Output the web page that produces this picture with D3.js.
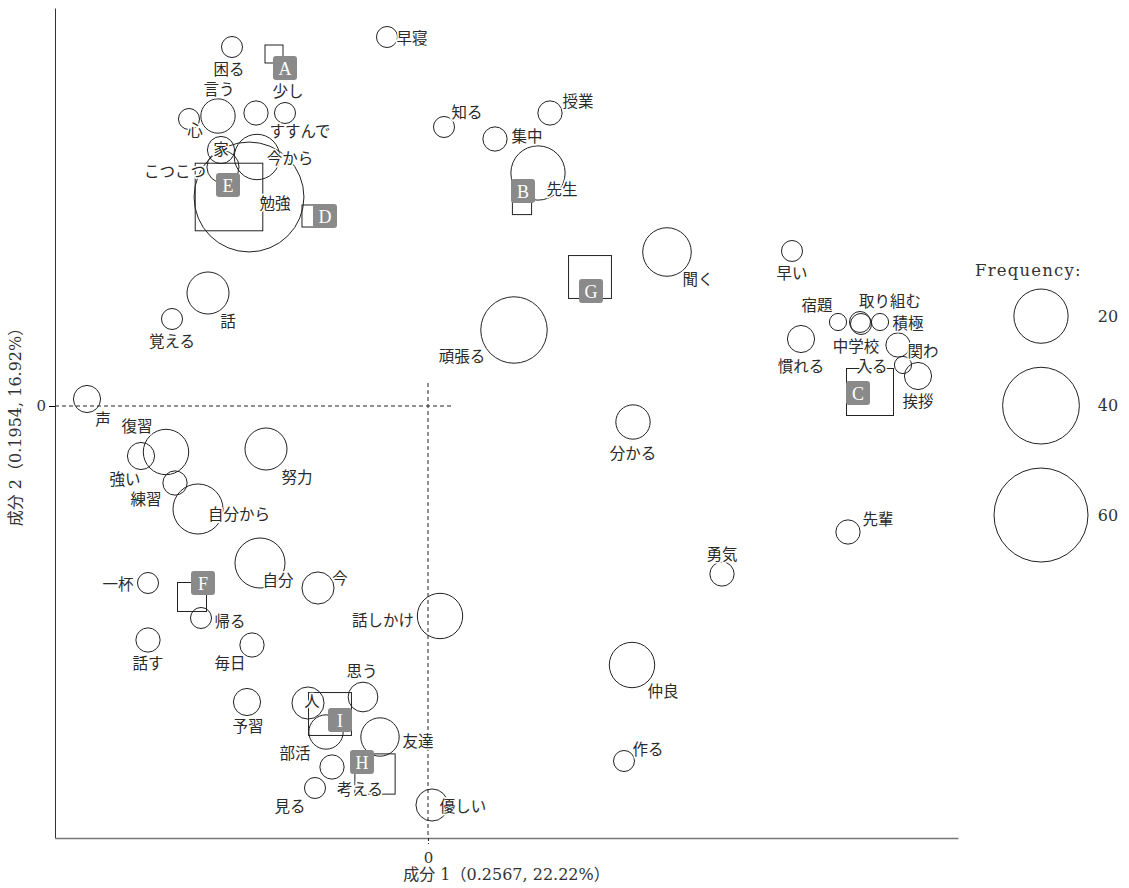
<!DOCTYPE html>
<html>
<head>
<meta charset="utf-8">
<script src="https://cdn.jsdelivr.net/npm/d3@7"></script>
<style>
  body { margin: 0; background: #fff; }
  svg { display: block; }
</style>
</head>
<body>
<div id="chart"></div>
<script>
// words: correspondence analysis coordinates and frequency
var words = ["困る","言う","心","すすんで","少し","家","今から","こつこつ","勉強","覚える","話",
  "早寝","知る","授業","集中","先生","頑張る","聞く",
  "早い","宿題","取り組む","積極","中学校","慣れる","関わ","入る","挨拶",
  "分かる","先輩","勇気","仲良","作る",
  "声","復習","強い","練習","自分から","努力","自分","今","一杯","帰る","話す","毎日",
  "話しかけ","思う","人","部活","予習","友達","考える","見る","優しい"];
var dim1 = [-0.98,-1.05,-1.195,-0.86,-0.715,-1.035,-0.855,-1.025,-0.895,-1.28,-1.10,
  -0.205,0.08,0.61,0.335,0.55,0.43,1.195,
  1.82,2.05,2.16,2.26,2.165,1.865,2.35,2.375,2.45,
  1.025,2.10,1.47,1.02,0.98,
  -1.705,-1.31,-1.435,-1.265,-1.15,-0.81,-0.84,-0.55,-1.40,-1.135,-1.40,-0.88,
  0.06,-0.325,-0.60,-0.51,-0.905,-0.24,-0.48,-0.565,0.02];
var dim2 = [1.795,1.45,1.435,1.465,1.465,1.28,1.245,1.195,1.045,0.435,0.565,
  1.845,1.395,1.465,1.335,1.165,0.38,0.77,
  0.775,0.42,0.42,0.42,0.41,0.335,0.305,0.205,0.15,
  -0.08,-0.63,-0.84,-1.295,-1.775,
  0.035,-0.23,-0.25,-0.385,-0.515,-0.215,-0.785,-0.91,-0.885,-1.06,-1.17,-1.195,
  -1.05,-1.455,-1.485,-1.63,-1.48,-1.655,-1.805,-1.91,-1.995];
var freq = [3,8,3,4,3,5,14,7,82,3,12,
  3,3,4,4,20,30,16,
  3,2,3,2,3,5,4,2,5,
  8,4,4,14,3,
  5,14,5,4,17,12,17,7,3,3,4,4,
  14,6,7,8,5,10,4,3,7];

// external variables (squares)
var varNames = ["A","B","C","D","E","F","G","H","I"];
var varDim1 = [-0.77,0.47,2.21,-0.575,-0.995,-1.18,0.81,-0.265,-0.49];
var varDim2 = [1.76,1.005,0.07,0.95,1.045,-0.955,0.645,-1.84,-1.54];
var varFreq = [2.2,2.5,15,3.3,31,5.7,12.5,11,12.5];

var legendValues = [20,40,60];
var xTicks = [0], yTicks = [0];
var xTitle = "成分 1（0.2567, 22.22%）";
var yTitle = "成分 2（0.1954, 16.92%）";

// label placement (pixel nudges from the point, like a repel layout)
var nudge = {
  "困る":[-3,21],"言う":[1,-28],"心":[6,10],"すすんで":[44,17],"少し":[3,-23],"家":[0,-2],
  "今から":[33,0],"こつこつ":[-48,3],"勉強":[26,5],"覚える":[0,21],"話":[20,27],
  "早寝":[25,0],"知る":[23,-16],"授業":[28,-13],"集中":[32,-4],"先生":[24,15],
  "頑張る":[-52,25],"聞く":[31,26],"早い":[0,21],"宿題":[-21,-18],"取り組む":[30,-22],
  "積極":[28,0],"中学校":[-5,21],"慣れる":[0,26],"関わ":[25,5],"入る":[-31,0],"挨拶":[0,24],
  "分かる":[0,30],"先輩":[30,-14],"勇気":[0,-21],"仲良":[31,25],"作る":[24,-13],
  "声":[16,19],"復習":[-29,-27],"強い":[-16,22],"練習":[-29,15],"自分から":[41,4],
  "努力":[31,27],"自分":[18,16],"今":[22,-11],"一杯":[-30,0],"帰る":[29,2],"話す":[0,22],
  "毎日":[-22,17],"話しかけ":[-57,3],"思う":[-1,-27],"人":[4,-3],"部活":[-31,20],
  "予習":[1,23],"友達":[38,3],"考える":[28,21],"見る":[-25,17],"優しい":[31,0]
};
var varNudge = {"A":[11,14],"B":[1,-14],"C":[-12,1],"D":[12,0],"E":[-1,-12],
  "F":[11,-14],"G":[1,14],"H":[-13,-12],"I":[10,6]};

var width = 1129, height = 888;
var margin = { top: 8, right: 171, bottom: 50, left: 55 };

var svg = d3.select("#chart").append("svg")
    .attr("width", width)
    .attr("height", height);

var x = d3.scaleLinear().domain([-1.865, 2.65]).range([margin.left, width - margin.right]);
var y = d3.scaleLinear().domain([-2.16, 1.99]).range([height - margin.bottom, margin.top]);
var r = d3.scaleSqrt().domain([0, 60]).range([0, 47]);

var jpFont = "'Noto Sans CJK JP', sans-serif";
var numFont = "'DejaVu Serif', 'Noto Sans CJK JP', serif";

// dashed zero lines
svg.append("line")
    .attr("x1", x.range()[0]).attr("x2", x(0) + 24)
    .attr("y1", y(0)).attr("y2", y(0))
    .attr("stroke", "#222").attr("stroke-dasharray", "4,3");
svg.append("line")
    .attr("x1", x(0)).attr("x2", x(0))
    .attr("y1", y(0) - 23).attr("y2", y.range()[0])
    .attr("stroke", "#222").attr("stroke-dasharray", "4,3");

// axes
var yAxis = svg.append("g")
    .attr("transform", "translate(" + margin.left + ",0)")
    .call(d3.axisLeft(y).tickValues(yTicks).tickSize(6).tickSizeOuter(0).tickFormat(d3.format("d")));
yAxis.select("path.domain").attr("stroke", "#333");
var xAxis = svg.append("g")
    .attr("transform", "translate(0," + y.range()[0] + ")")
    .call(d3.axisBottom(x).tickValues(xTicks).tickSize(6).tickSizeOuter(0).tickFormat(d3.format("d")));
xAxis.select("path.domain").attr("stroke", "#777").attr("stroke-width", 1.5);
xAxis.selectAll(".tick line").attr("stroke", "#222").attr("stroke-dasharray", "3,2");
svg.selectAll("g.tick text")
    .style("font-family", numFont)
    .style("font-size", "15px")
    .attr("fill", "#333");
xAxis.selectAll(".tick text").attr("dy", "1.05em");

svg.append("text")
    .attr("x", (x.range()[0] + x.range()[1]) / 2)
    .attr("y", 880)
    .attr("text-anchor", "middle")
    .style("font-family", numFont)
    .style("font-size", "16px")
    .attr("fill", "#333")
    .text(xTitle);
svg.append("text")
    .attr("transform", "translate(21," + (y.range()[0] + y.range()[1]) / 2 + ") rotate(-90)")
    .attr("text-anchor", "middle")
    .style("font-family", numFont)
    .style("font-size", "16px")
    .attr("fill", "#333")
    .text(yTitle);

var wordData = words.map(function(w, i) {
    return { name: w, d1: dim1[i], d2: dim2[i], f: freq[i] };
});
var varData = varNames.map(function(v, i) {
    return { name: v, d1: varDim1[i], d2: varDim2[i], f: varFreq[i] };
});

// variable squares
svg.selectAll(".varsq")
    .data(varData)
    .enter().append("rect")
    .attr("class", "varsq")
    .attr("x", function(d) { return x(d.d1) - r(d.f); })
    .attr("y", function(d) { return y(d.d2) - r(d.f); })
    .attr("width", function(d) { return 2 * r(d.f); })
    .attr("height", function(d) { return 2 * r(d.f); })
    .attr("fill", "none")
    .attr("stroke", "#222")
    .attr("stroke-width", 1);

// word bubbles
svg.selectAll(".bubble")
    .data(wordData)
    .enter().append("circle")
    .attr("class", "bubble")
    .attr("cx", function(d) { return x(d.d1); })
    .attr("cy", function(d) { return y(d.d2); })
    .attr("r", function(d) { return r(d.f); })
    .attr("fill", "none")
    .attr("stroke", "#222")
    .attr("stroke-width", 1);

// word labels with white halo
svg.selectAll(".wlabel")
    .data(wordData)
    .enter().append("text")
    .attr("class", "wlabel")
    .attr("x", function(d) { return x(d.d1) + nudge[d.name][0]; })
    .attr("y", function(d) { return y(d.d2) + nudge[d.name][1]; })
    .attr("text-anchor", "middle")
    .attr("dominant-baseline", "central")
    .style("font-family", jpFont)
    .style("font-size", "15.5px")
    .attr("fill", "#2a2a2a")
    .attr("stroke", "#fff")
    .attr("stroke-width", 3)
    .attr("paint-order", "stroke")
    .text(function(d) { return d.name; });

// variable label boxes
var vlab = svg.selectAll(".vlabel")
    .data(varData)
    .enter().append("g")
    .attr("class", "vlabel")
    .attr("transform", function(d) {
        return "translate(" + (x(d.d1) + varNudge[d.name][0]) + "," + (y(d.d2) + varNudge[d.name][1]) + ")";
    });
vlab.append("rect")
    .attr("x", -12).attr("y", -12)
    .attr("width", 24).attr("height", 24)
    .attr("rx", 3)
    .attr("fill", "#8a8a8a");
vlab.append("text")
    .attr("text-anchor", "middle")
    .attr("dominant-baseline", "central")
    .attr("y", 1)
    .style("font-family", "'Liberation Serif', serif")
    .style("font-size", "18px")
    .attr("fill", "#fff")
    .text(function(d) { return d.name; });

// size legend
var lx = 1041;
svg.append("text")
    .attr("x", 975).attr("y", 276)
    .style("font-family", numFont)
    .style("font-size", "16.5px")
    .style("letter-spacing", "1.2px")
    .attr("fill", "#333")
    .text("Frequency:");
var ly = 289;
var legendPos = legendValues.map(function(v) {
    var cy = ly + r(v);
    ly = cy + r(v) + 24;
    return { v: v, cy: cy };
});
svg.selectAll(".legc")
    .data(legendPos)
    .enter().append("circle")
    .attr("cx", lx)
    .attr("cy", function(d) { return d.cy; })
    .attr("r", function(d) { return r(d.v); })
    .attr("fill", "none")
    .attr("stroke", "#222");
svg.selectAll(".legt")
    .data(legendPos)
    .enter().append("text")
    .attr("x", 1108)
    .attr("y", function(d) { return d.cy; })
    .attr("text-anchor", "middle")
    .attr("dominant-baseline", "central")
    .style("font-family", numFont)
    .style("font-size", "16px")
    .attr("fill", "#333")
    .text(function(d) { return d.v; });
</script>
</body>
</html>
